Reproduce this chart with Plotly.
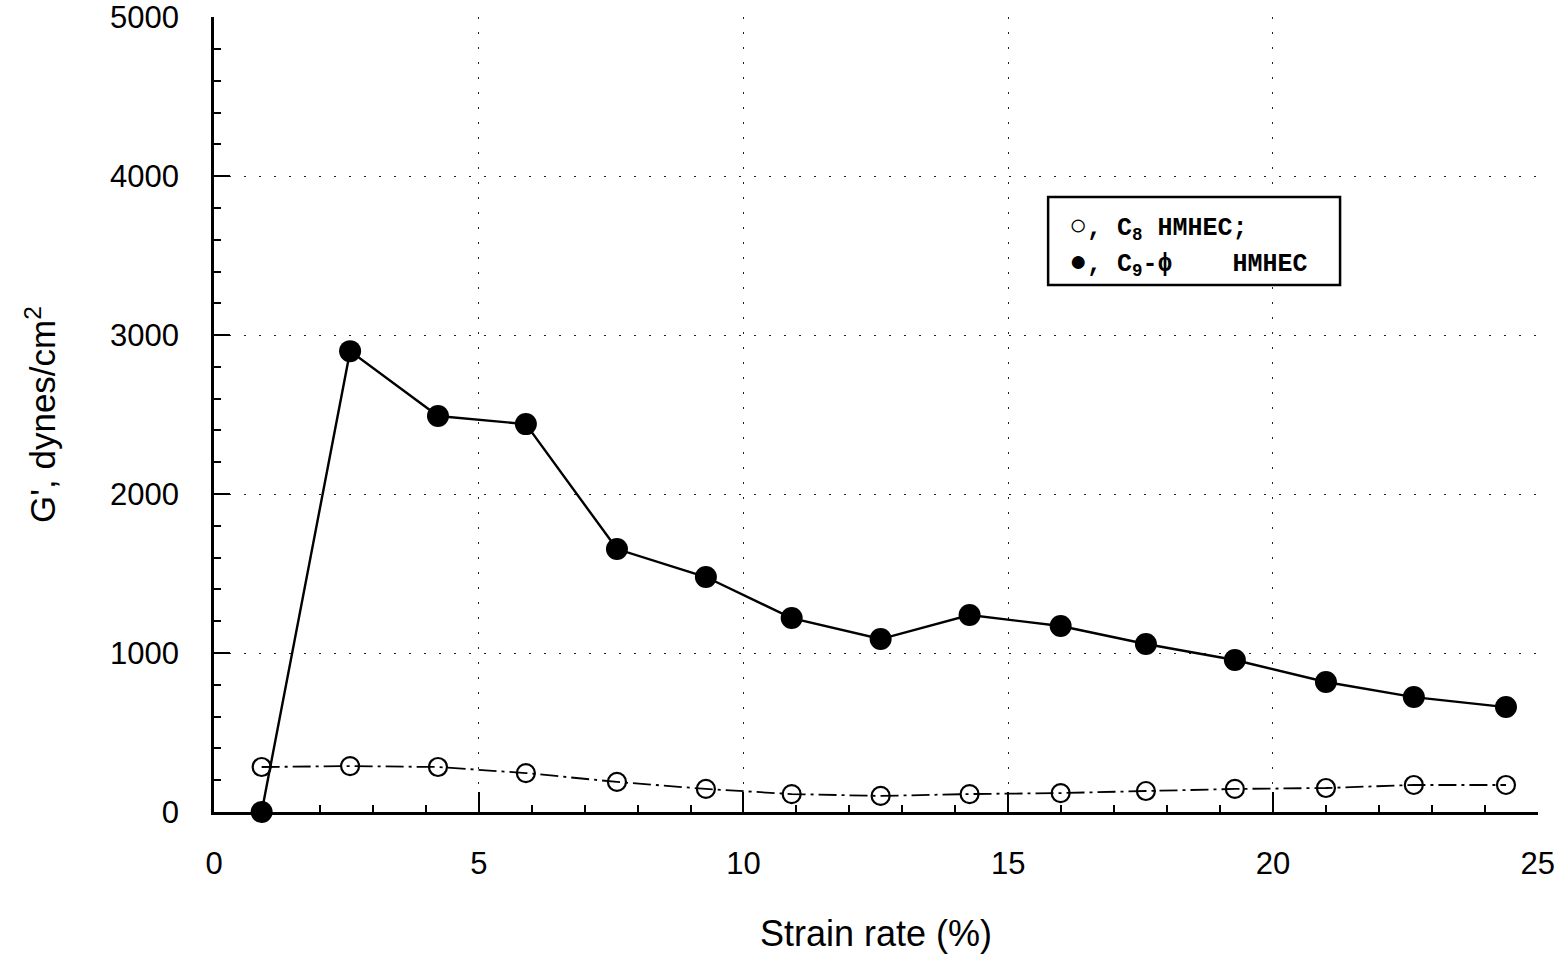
import plotly.graph_objects as go

# Strain rate (%) at each measurement
strain = [0.9, 2.57, 4.23, 5.89, 7.61, 9.29, 10.91, 12.59, 14.27, 15.99, 17.6, 19.28, 21.0, 22.66, 24.4]

# Storage modulus G' (dynes/cm^2)
g_c8 = [283, 289, 283, 245, 189, 145, 113, 101, 113, 119, 132, 145, 151, 170, 170]
g_c9phi = [0, 2899, 2491, 2440, 1654, 1478, 1220, 1088, 1239, 1170, 1057, 956, 818, 723, 660]

x_ticks = [0, 5, 10, 15, 20, 25]
y_ticks = [0, 1000, 2000, 3000, 4000, 5000]

# Legend rows (drawn as text inside a framed box)
legend_rows = [
    "<span style='font-size:30px'>○</span>, C<sub>8</sub> HMHEC;",
    "<span style='font-size:30px'>●</span>, C<sub>9</sub>-ϕ    HMHEC",
]

fig = go.Figure()

fig.add_trace(go.Scatter(
    x=strain, y=g_c8, mode="lines+markers", name="C8 HMHEC",
    line=dict(color="black", width=1.8, dash="18px,5px,3px,5px"),
    marker=dict(symbol="circle-open", size=18, color="black", line=dict(width=2.2, color="black")),
    cliponaxis=False,
))
fig.add_trace(go.Scatter(
    x=strain, y=g_c9phi, mode="lines+markers", name="C9-phi HMHEC",
    line=dict(color="black", width=2.4),
    marker=dict(symbol="circle", size=22, color="black"),
    cliponaxis=False,
))

tick_font = dict(family="Liberation Sans, Arial", size=31, color="black")

fig.update_xaxes(
    range=[0, 25.005], tickvals=x_ticks, ticktext=[str(v) for v in x_ticks],
    showline=True, linecolor="black", linewidth=2.5,
    ticks="inside", ticklen=20, tickwidth=2, tickcolor="black",
    minor=dict(dtick=1, ticks="inside", ticklen=7, tickwidth=1.5, tickcolor="black", showgrid=False),
    showgrid=True, gridcolor="#222", gridwidth=1.3, griddash="2px,13px",
    zeroline=False, tickfont=tick_font, ticklabelstandoff=22, automargin=False,
    title=dict(text="Strain rate (%)", font=dict(family="Liberation Sans, Arial", size=36, color="black"), standoff=41),
)
fig.update_yaxes(
    range=[0, 5001], tickvals=y_ticks, ticktext=[str(v) for v in y_ticks],
    showline=True, linecolor="black", linewidth=2.5,
    ticks="inside", ticklen=16, tickwidth=2, tickcolor="black",
    minor=dict(dtick=200, ticks="inside", ticklen=7, tickwidth=1.5, tickcolor="black", showgrid=False),
    showgrid=True, gridcolor="#222", gridwidth=1.3, griddash="2px,13px",
    zeroline=False, tickfont=tick_font, ticklabelstandoff=26, automargin=False,
    title=dict(text="G', dynes/cm<sup>2</sup>", font=dict(family="Liberation Sans, Arial", size=35, color="black"), standoff=44),
)

# Legend box
fig.add_shape(
    type="rect", xref="paper", yref="paper",
    x0=0.630, x1=0.8505, y0=0.6629, y1=0.7736,
    line=dict(color="black", width=2.5), fillcolor="white", layer="above",
)
for row_text, row_y in zip(legend_rows, [0.7352, 0.6899]):
    fig.add_annotation(
        xref="paper", yref="paper", x=0.644, y=row_y, xanchor="left", yanchor="middle",
        text=row_text, showarrow=False, align="left",
        font=dict(family="Liberation Mono, Courier New", size=25, color="black", weight="bold"),
    )

fig.update_layout(
    width=1568, height=964,
    margin=dict(l=214, r=30, t=17, b=152),
    plot_bgcolor="white", paper_bgcolor="white",
    showlegend=False,
)

fig.write_html("out.html")
